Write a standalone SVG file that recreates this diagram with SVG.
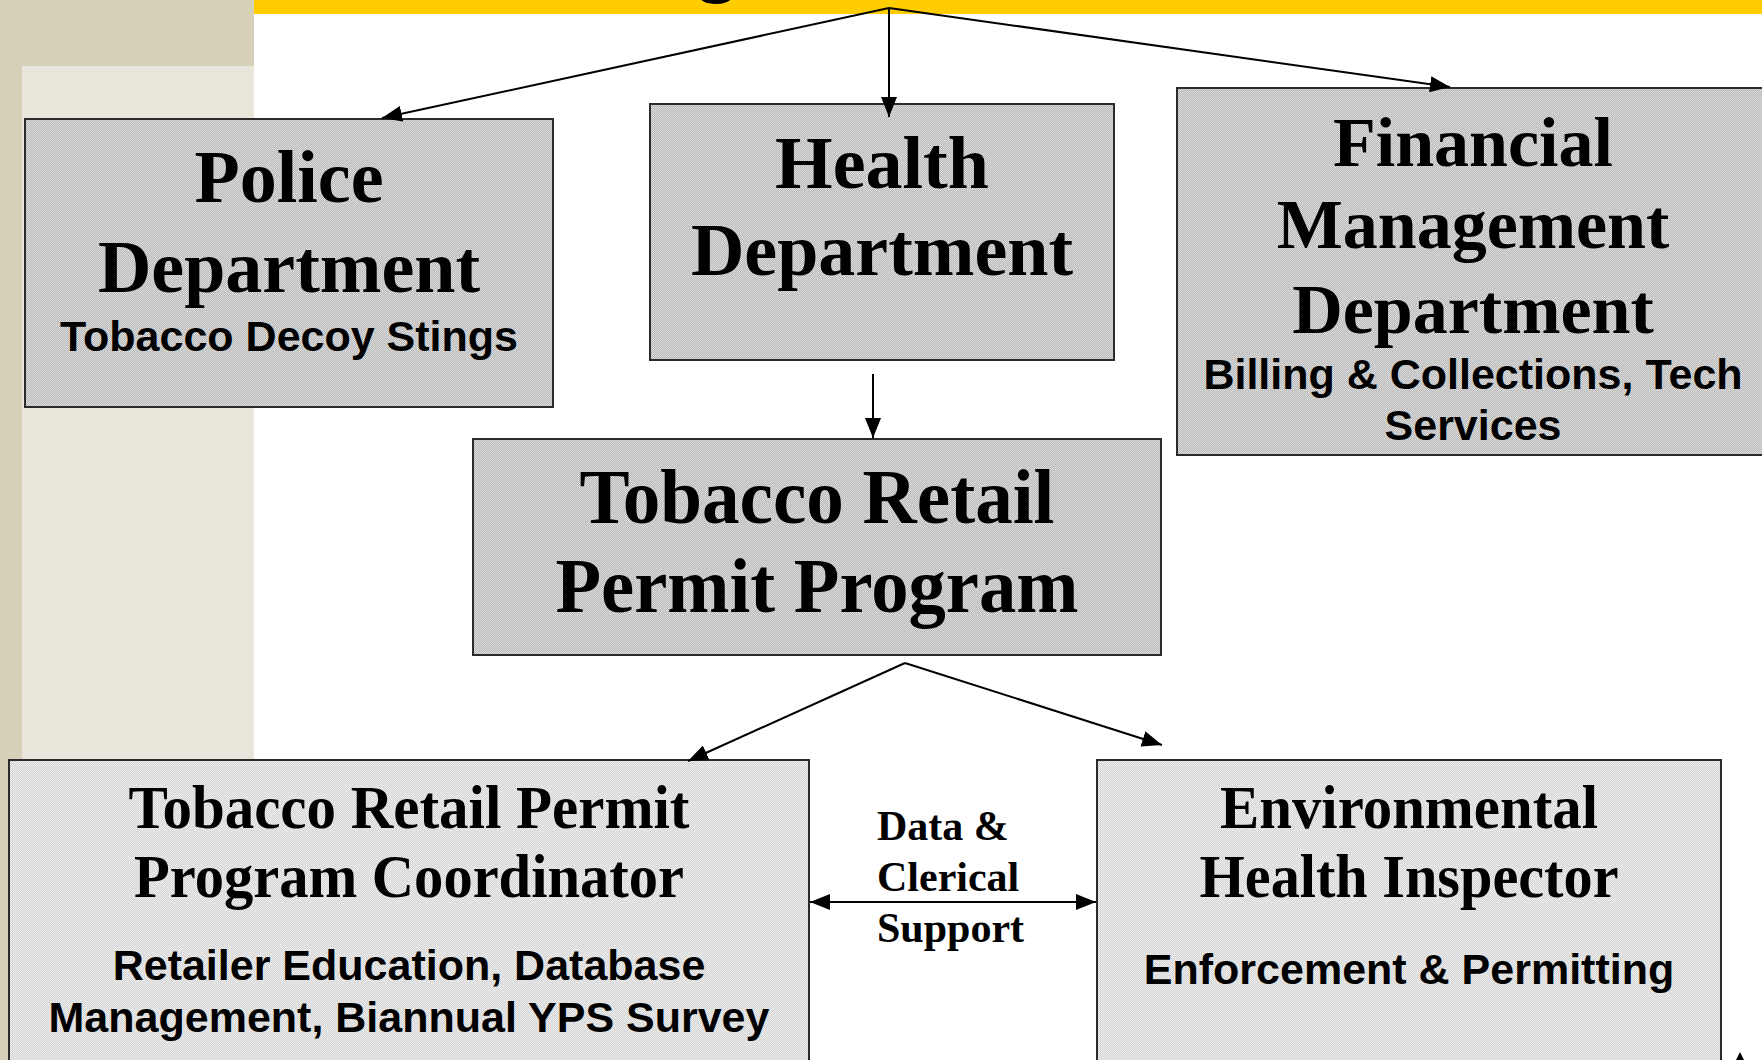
<svg xmlns="http://www.w3.org/2000/svg" width="1762" height="1060" viewBox="0 0 1762 1060">
<defs>
<pattern id="dk" width="2" height="2" patternUnits="userSpaceOnUse"><rect width="2" height="2" fill="#B6B6B6"/><rect width="1" height="1" fill="#DEDEDE"/><rect x="1" y="1" width="1" height="1" fill="#DEDEDE"/></pattern>
<pattern id="lt" width="2" height="2" patternUnits="userSpaceOnUse"><rect width="2" height="2" fill="#D2D2D2"/><rect width="1" height="1" fill="#EFEFEF"/><rect x="1" y="1" width="1" height="1" fill="#EFEFEF"/></pattern>
<marker id="ah" viewBox="0 0 20 16" refX="20" refY="8" markerWidth="20" markerHeight="16" markerUnits="userSpaceOnUse" orient="auto-start-reverse"><path d="M0,0 L20,8 L0,16 z" fill="#000"/></marker>
</defs>
<style>
.box{stroke:#2b2b2b;stroke-width:2}
.dk{fill:url(#dk)}
.lt{fill:url(#lt)}
.h{font-family:"Liberation Serif","Times New Roman",serif;font-weight:bold;text-anchor:middle;fill:#000}
.s{font-family:"Liberation Sans",Arial,sans-serif;font-weight:bold;text-anchor:middle;fill:#000;font-size:43px}
.c line{stroke:#000;stroke-width:2;fill:none}
</style>
<rect width="1762" height="1060" fill="#fff"/>
<rect x="0" y="0" width="254" height="1060" fill="#D6D0B9"/>
<rect x="22" y="66" width="232" height="994" fill="#E8E6DB"/>
<rect x="254" y="0" width="1508" height="14" fill="#FFCC00"/>
<text x="698" y="-12" font-family="Liberation Serif, serif" font-weight="bold" font-size="74">g</text>

<g id="police">
<rect class="box dk" x="25" y="119" width="528" height="288"/>
<text class="h" x="289" y="202" font-size="74">Police</text>
<text class="h" x="289" y="292" font-size="74">Department</text>
<text class="s" x="289" y="351">Tobacco Decoy Stings</text>
</g>
<g id="health">
<rect class="box dk" x="650" y="104" width="464" height="256"/>
<text class="h" x="882" y="188" font-size="74">Health</text>
<text class="h" x="882" y="275" font-size="74">Department</text>
</g>
<g id="financial">
<rect class="box dk" x="1177" y="88" width="590" height="367"/>
<text class="h" x="1473" y="166" font-size="70">Financial</text>
<text class="h" x="1473" y="248" font-size="70">Management</text>
<text class="h" x="1473" y="333" font-size="70">Department</text>
<text class="s" x="1473" y="389">Billing &amp; Collections, Tech</text>
<text class="s" x="1473" y="440">Services</text>
</g>
<g id="trpp">
<rect class="box dk" x="473" y="439" width="688" height="216"/>
<text class="h" x="817" y="523" font-size="78" textLength="475" lengthAdjust="spacingAndGlyphs">Tobacco Retail</text>
<text class="h" x="817" y="612" font-size="78" textLength="523" lengthAdjust="spacingAndGlyphs">Permit Program</text>
</g>
<g id="coordinator">
<rect class="box lt" x="9" y="760" width="800" height="310"/>
<text class="h" x="409" y="828" font-size="62" textLength="561" lengthAdjust="spacingAndGlyphs">Tobacco Retail Permit</text>
<text class="h" x="409" y="897" font-size="62" textLength="550" lengthAdjust="spacingAndGlyphs">Program Coordinator</text>
<text class="s" x="409" y="980">Retailer Education, Database</text>
<text class="s" x="409" y="1032">Management, Biannual YPS Survey</text>
</g>
<g id="inspector">
<rect class="box lt" x="1097" y="760" width="624" height="310"/>
<text class="h" x="1409" y="828" font-size="62" textLength="378" lengthAdjust="spacingAndGlyphs">Environmental</text>
<text class="h" x="1409" y="897" font-size="62" textLength="419" lengthAdjust="spacingAndGlyphs">Health Inspector</text>
<text class="s" x="1409" y="984">Enforcement &amp; Permitting</text>
</g>
<g id="support-label">
<text x="877" y="840" font-family="Liberation Serif, serif" font-weight="bold" font-size="42">Data &amp;</text>
<text x="877" y="891" font-family="Liberation Serif, serif" font-weight="bold" font-size="42">Clerical</text>
<text x="877" y="942" font-family="Liberation Serif, serif" font-weight="bold" font-size="42">Support</text>
</g>
<g id="connectors" class="c">
<line x1="889" y1="8" x2="382" y2="118" marker-end="url(#ah)"/>
<line x1="889" y1="8" x2="889" y2="117" marker-end="url(#ah)"/>
<line x1="889" y1="8" x2="1450" y2="87" marker-end="url(#ah)"/>
<line x1="873" y1="374" x2="873" y2="438" marker-end="url(#ah)"/>
<line x1="905" y1="663" x2="688" y2="761" marker-end="url(#ah)"/>
<line x1="905" y1="663" x2="1162" y2="745" marker-end="url(#ah)"/>
<line x1="810" y1="902" x2="1096" y2="902" marker-start="url(#ah)" marker-end="url(#ah)"/>
<path d="M1740,1052 L1734,1064 L1746,1064 Z" fill="#000"/>
</g>
</svg>
